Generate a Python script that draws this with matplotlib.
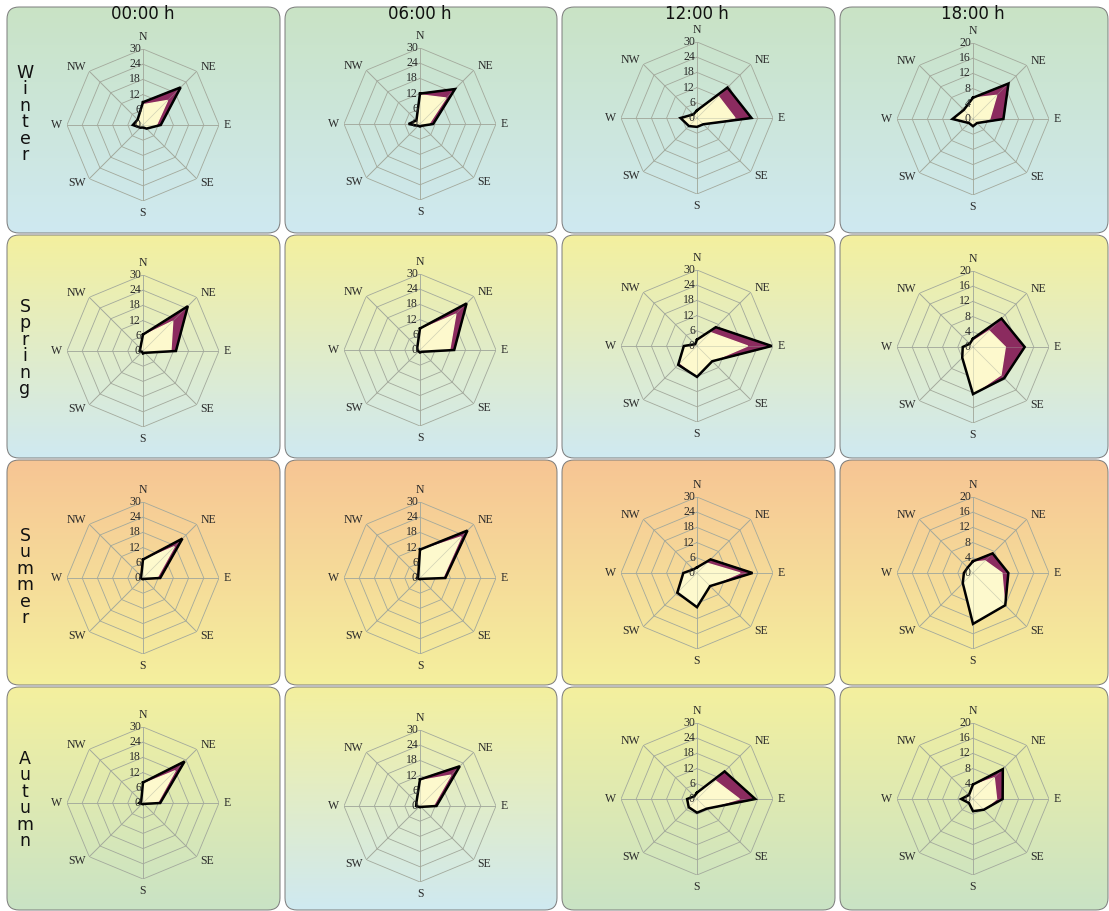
import numpy as np
import matplotlib
matplotlib.use('Agg')
import matplotlib.pyplot as plt
from matplotlib.patches import FancyBboxPatch
from matplotlib.colors import LinearSegmentedColormap

# 风向顺序：N, NE, E, SE, S, SW, W, NW
directions = ['N', 'NE', 'E', 'SE', 'S', 'SW', 'W', 'NW']
hours = ['00:00 h', '06:00 h', '12:00 h', '18:00 h']
seasons = ['Winter', 'Spring', 'Summer', 'Autumn']
rmax_by_hour = [30, 30, 30, 20]

# 外层（紫色）与内层（浅黄）频率，每季四个时次
winter_outer = [[9, 21, 7, 2, 1, 1.5, 4, 3],
                [12, 19.5, 5.2, 1, 1, 1, 4.5, 2],
                [3, 17, 21.5, 3.5, 3.5, 4.5, 6.5, 2],
                [5.6, 13.2, 8, 1.5, 1.9, 1.5, 5.4, 3.4]]
winter_inner = [[8, 13.7, 5.3, 1.5, 1, 1.5, 4, 3],
                [11.5, 14.5, 3.5, 1, 1, 1, 4.5, 2],
                [2.5, 12, 15, 3.5, 3.5, 4.5, 6.5, 2],
                [5.5, 8.8, 4.4, 1.5, 1.9, 1.5, 5.4, 3.4]]
spring_outer = [[6.5, 25, 13, 1, 1, 0.5, 1.3, 1.5],
                [8.5, 26, 13.5, 1, 1, 0.8, 1, 1.5],
                [2.5, 10.5, 29.5, 8.5, 12.2, 10.5, 5.2, 1],
                [2.2, 10.6, 13.6, 11.6, 12.4, 4, 2.7, 1.2]]
spring_inner = [[6, 16.6, 11, 1, 1, 0.5, 1.3, 1.5],
                [8, 20, 11.7, 1, 1, 0.8, 1, 1.5],
                [2.2, 7.5, 20, 8.5, 12, 9.5, 5, 1],
                [1.5, 6, 8.5, 10.4, 12.4, 4, 2.7, 1.2]]
summer_outer = [[7.3, 22, 6.8, 0.5, 0.5, 0.5, 1, 1],
                [11.2, 26.5, 10, 0.5, 0.5, 0.5, 1.2, 1],
                [2.2, 7.6, 21.9, 7.3, 13.5, 11, 5.4, 2],
                [3.1, 7.3, 9.3, 12, 13.4, 3.8, 2.4, 2]]
summer_inner = [[7, 17.5, 5.5, 0.5, 0.5, 0.5, 1, 1],
                [10.8, 23, 9, 0.5, 0.5, 0.5, 1.2, 1],
                [2, 5.5, 17, 7.3, 13.5, 11, 5.4, 2],
                [2.8, 4.5, 7.6, 11.8, 13.4, 3.8, 2.4, 2]]
autumn_outer = [[8.1, 23.2, 6.8, 0.5, 0.5, 0.5, 1.5, 1],
                [10.5, 22.2, 6.5, 0.5, 0.5, 0.5, 1.5, 2],
                [2.5, 15.4, 23, 5.4, 5.4, 4.6, 3.9, 1.5],
                [3.8, 11.1, 7.8, 4, 3.2, 1.5, 3.1, 1.5]]
autumn_inner = [[7.5, 18, 5.7, 0.5, 0.5, 0.5, 1.5, 1],
                [10, 17.2, 5.2, 0.5, 0.5, 0.5, 1.5, 2],
                [2.2, 10.2, 16.7, 5.4, 5.4, 4.6, 3.9, 1.5],
                [3.6, 7.9, 6.2, 4, 3.2, 1.5, 3.1, 1.5]]

outer = [winter_outer, spring_outer, summer_outer, autumn_outer]
inner = [winter_inner, spring_inner, summer_inner, autumn_inner]

# 背景渐变色（上, 下）
green, blue, yellow, orange = '#c9e3c5', '#cfe9f1', '#f4f09e', '#f7c594'
bg_colors = [[(green, blue)] * 4,
             [(yellow, blue)] * 4,
             [(orange, yellow)] * 4,
             [(yellow, green), (yellow, blue), (yellow, green), (yellow, green)]]

W, H = 1109, 911
fig = plt.figure(figsize=(W / 100, H / 100), dpi=100)
fig.patch.set_facecolor('white')

# 像素坐标的背景层
bg = fig.add_axes([0, 0, 1, 1])
bg.set_xlim(0, W)
bg.set_ylim(H, 0)
bg.axis('off')

col_x = [(7, 280), (285, 557), (562, 835), (840, 1108)]
row_y = [(7, 233), (235, 458), (460, 685), (687, 910)]
cx_list = [143, 420, 697, 973]
cy_list = [[125, 124, 118, 119], [351, 350, 346, 347],
           [578, 578, 573, 573], [803, 806, 799, 799]]
R = 76

grad = np.linspace(0, 1, 256).reshape(-1, 1)
for i in range(4):
    for j in range(4):
        x0, x1 = col_x[j]
        y0, y1 = row_y[i]
        box = FancyBboxPatch((x0 + 6, y0 + 6), x1 - x0 - 12, y1 - y0 - 12,
                             boxstyle='round,pad=6,rounding_size=12',
                             facecolor='none', edgecolor='#7a7a7a', lw=0.7, zorder=2)
        bg.add_patch(box)
        cmap = LinearSegmentedColormap.from_list('g', bg_colors[i][j])
        im = bg.imshow(grad, cmap=cmap, extent=(x0, x1, y1, y0), aspect='auto', zorder=1)
        im.set_clip_path(box)

for j, h in enumerate(hours):
    bg.text(cx_list[j], 14, h, ha='center', va='center', fontsize=12,
            family='DejaVu Sans', color='#111111', zorder=5)

label_cy = [114, 348, 577, 800]
for i, s in enumerate(seasons):
    n = len(s)
    for k, ch in enumerate(s):
        bg.text(25, label_cy[i] + (k - (n - 1) / 2) * 16.5, ch, ha='center', va='center',
                fontsize=12.5, family='DejaVu Sans', color='#111111', zorder=5)

theta = np.deg2rad(np.arange(0, 360, 45))
theta_c = np.append(theta, theta[0])
grid_color = '#a3a99c'
txt_kw = dict(fontsize=8.5, family='Liberation Serif', color='#2a2a2a')

for i in range(4):
    for j in range(4):
        cx, cy = cx_list[j], cy_list[i][j]
        rmax = rmax_by_hour[j]
        ax = fig.add_axes([(cx - R) / W, 1 - (cy + R) / H, 2 * R / W, 2 * R / H],
                          projection='polar')
        ax.set_theta_zero_location('N')
        ax.set_theta_direction(-1)
        ax.set_ylim(0, rmax)
        ax.axis('off')
        ax.patch.set_visible(False)

        ticks = np.arange(0, rmax + 1, rmax // 5)
        # 八边形网格与辐射线
        for v in ticks[1:]:
            ax.plot(theta_c, [v] * 9, color=grid_color, lw=0.6, zorder=1)
        for t in theta:
            ax.plot([t, t], [0, rmax], color=grid_color, lw=0.6, zorder=1)

        o = np.append(outer[i][j], outer[i][j][0])
        n_ = np.append(inner[i][j], inner[i][j][0])
        ax.fill(theta_c, o, color='#8b2b5f', zorder=2)
        ax.fill(theta_c, n_, color='#fdf9cd', zorder=3)
        for t in theta:
            ax.plot([t, t], [0, rmax], color=grid_color, lw=0.5, alpha=0.5, zorder=4)
        ax.plot(theta_c, o, color='black', lw=1.8, zorder=5, solid_joinstyle='miter')

        for v in ticks:
            ax.annotate(str(v), xy=(0, v), xytext=(-1.5, 0), textcoords='offset points',
                        ha='right', va='center', annotation_clip=False, zorder=6, **txt_kw)
        for t, d in zip(theta, directions):
            s, c = np.sin(t), np.cos(t)
            ha = 'left' if s > 0.1 else ('right' if s < -0.1 else 'center')
            va = 'bottom' if c > 0.9 else ('top' if c < -0.9 else 'center')
            ax.annotate(d, xy=(t, rmax), xytext=(3.5 * s, 4 * c), textcoords='offset points',
                        ha=ha, va=va, annotation_clip=False, zorder=6, **txt_kw)

plt.savefig('out.png', dpi=100)
plt.close()
